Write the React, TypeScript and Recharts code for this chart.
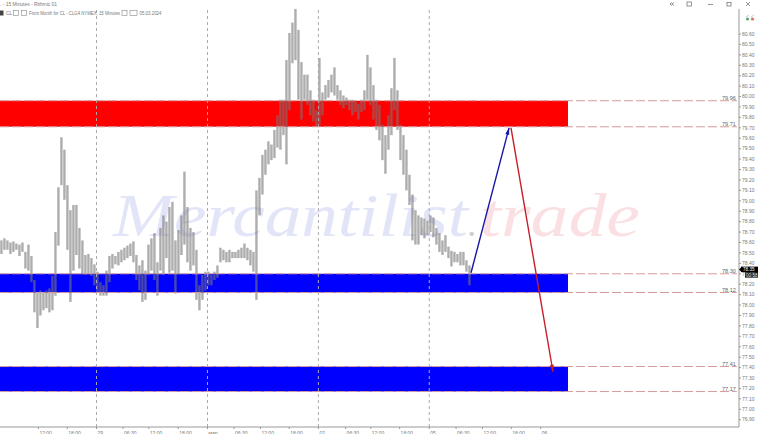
import React from "react";
import {
  ComposedChart,
  Bar,
  Line,
  XAxis,
  YAxis,
  ReferenceArea,
  ReferenceLine,
  ReferenceDot,
} from "recharts";

// high / low of the price, one pair per 2.5 time slots
const highs = [
  78.62, 78.64, 78.62, 78.6, 78.61, 78.59, 78.58, 78.6, 78.51, 78.58, 78.47, 78.24, 78.12, 78.14, 78.12, 78.14,
  78.16, 78.28, 78.7, 79.13, 79.61, 79.49, 79.15, 78.91, 78.96, 78.96, 78.74, 78.62, 78.48, 78.49, 78.45, 78.39,
  78.32, 78.22, 78.19, 78.33, 78.47, 78.49, 78.47, 78.51, 78.53, 78.55, 78.57, 78.59, 78.61, 78.48, 78.38, 78.43,
  78.33, 78.58, 78.64, 78.69, 78.41, 78.74, 78.86, 78.8, 78.94, 78.99, 78.62, 78.72, 78.86, 79.28, 78.94, 78.74,
  78.7, 78.53, 78.19, 78.29, 78.32, 78.32, 78.29, 78.32, 78.38, 78.55, 78.53, 78.51, 78.53, 78.51, 78.51, 78.53,
  78.55, 78.59, 78.55, 78.53, 78.51, 79.1, 79.22, 79.44, 79.49, 79.57, 79.54, 79.68, 79.82, 79.97, 79.97, 80.35,
  80.61, 80.71, 80.84, 80.64, 80.33, 80.21, 80.21, 80.06, 79.97, 79.87, 80.37, 80.04, 80.11, 80.16, 80.21, 80.28,
  80.11, 80.06, 80.01, 79.99, 79.97, 79.97, 79.95, 79.93, 79.97, 80.06, 80.4, 80.28, 80.11, 79.97, 79.92, 79.73,
  79.63, 79.82, 80.08, 80.37, 80.06, 79.73, 79.63, 79.49, 79.25, 79.06, 78.91, 78.86, 78.84, 78.83, 78.81, 78.86,
  78.84, 78.74, 78.69, 78.62, 78.67, 78.56, 78.52, 78.51, 78.49, 78.51, 78.51, 78.43, 78.38,
];
const lows = [
  78.49, 78.53, 78.53, 78.49, 78.51, 78.53, 78.47, 78.51, 78.35, 78.33, 78.22, 77.93, 77.78, 77.9, 77.95, 77.97,
  77.93, 77.95, 78.09, 78.57, 79.15, 79.01, 78.53, 78.03, 78.33, 78.48, 78.35, 78.29, 78.29, 78.3, 78.28, 78.19,
  78.12, 78.09, 78.09, 78.09, 78.22, 78.35, 78.39, 78.38, 78.41, 78.43, 78.45, 78.47, 78.41, 78.24, 78.14, 78.03,
  78.05, 78.29, 78.33, 78.24, 78.09, 78.33, 78.29, 78.45, 78.31, 78.33, 78.11, 78.29, 78.48, 78.58, 78.41, 78.33,
  78.38, 78.05, 77.95, 78.05, 78.14, 78.19, 78.19, 78.24, 78.26, 78.41, 78.43, 78.41, 78.41, 78.45, 78.45, 78.45,
  78.45, 78.45, 78.43, 78.38, 78.32, 78.05, 78.86, 79.06, 79.25, 79.35, 79.39, 79.41, 79.51, 79.49, 79.63, 79.35,
  79.87, 80.32, 80.35, 79.97, 79.78, 79.97, 79.92, 79.82, 79.76, 79.71, 79.73, 79.82, 79.97, 79.99, 80.04, 80.01,
  79.97, 79.92, 79.89, 79.92, 79.87, 79.82, 79.85, 79.78, 79.85, 79.87, 79.97, 79.92, 79.78, 79.68, 79.58, 79.39,
  79.26, 79.49, 79.63, 79.87, 79.68, 79.39, 79.25, 79.1, 78.96, 78.62, 78.58, 78.58, 78.67, 78.64, 78.67, 78.7,
  78.65, 78.58, 78.51, 78.48, 78.51, 78.45, 78.37, 78.41, 78.41, 78.38, 78.38, 78.32, 78.19,
];

const priceTicks = [
  80.6, 80.5, 80.4, 80.3, 80.2, 80.1, 80.0, 79.9, 79.8, 79.7, 79.6, 79.5, 79.4, 79.3, 79.2, 79.1, 79.0, 78.9, 78.8,
  78.7, 78.6, 78.5, 78.4, 78.3, 78.2, 78.1, 78.0, 77.9, 77.8, 77.7, 77.6, 77.5, 77.4, 77.3, 77.2, 77.1, 77.0, 76.9,
];
const timeTicks = [32, 56, 80.4, 102.5, 124, 148.5, 172.9, 195, 217, 241, 265.3, 288, 309, 333, 357.7, 380, 402, 426, 450.6];
const timeLabels = [
  "12:00", "18:00", "29", "06:30", "12:00", "18:00", "мар", "06:30", "12:00", "18:00", "02", "06:30", "12:00",
  "18:00", "05", "06:30", "12:00", "18:00", "06",
];
const sessionStarts = [80.4, 172.9, 265.3, 357.7];

const zoneLevels = [79.96, 79.71, 78.3, 78.12, 77.41, 77.17];
const zoneLabels = ["79.96", "79.71", "78.30", "78.12", "77.41", "77.17"];
const redZones = [[79.71, 79.96]];
const blueZones = [
  [78.12, 78.3],
  [77.17, 77.41],
];

const upArrow = [
  { slot: 392.5, price: 78.31 },
  { slot: 424.2, price: 79.7 },
];
const downArrow = [
  { slot: 425.8, price: 79.7 },
  { slot: 460.8, price: 77.36 },
];

const LAST_SLOT = 615.8;
const ZONE_END = 473.3;
const LEVEL_END = 614;

const bars = highs.map((high, i) => ({ slot: 1.25 + i * 2.5, range: [lows[i], high] }));

const grey = "#777";

const TimeTick = ({ x, y, payload }: any) => {
  const label = timeLabels[timeTicks.indexOf(payload.value)];
  return (
    <text x={x + 1} y={y + 3.5} fontSize={5} fill={grey} fontFamily="Liberation Sans">
      {label}
    </text>
  );
};

// the bar width gets clamped on a number axis, so the range bar is drawn here
const RangeBar = ({ x, y, width, height }: any) => (
  <rect x={x + width / 2 - 1.2} y={y} width={2.4} height={height} fill="#777" fillOpacity={0.6} />
);

const arrowHead = (dx: number, dy: number, color: string) => (props: any) => {
  if (props.index !== 1) return <g key={props.index} />;
  const { cx, cy } = props;
  const len = Math.hypot(dx, dy);
  const ux = dx / len;
  const uy = dy / len;
  const bx = cx - ux * 7;
  const by = cy - uy * 7;
  const points = `${cx},${cy} ${bx - uy * 2},${by + ux * 2} ${bx + uy * 2},${by - ux * 2}`;
  return <polygon key={props.index} points={points} fill={color} />;
};

const LastPriceTag = ({ cx, cy }: any) => (
  <g fontFamily="Liberation Sans" fontSize={4.6}>
    <rect x={cx + 2} y={cy - 3} width={17} height={5.5} fill="#000" />
    <path d={`M${cx},${cy} l2,-2 v4 z`} fill="#000" />
    <text x={cx + 4} y={cy + 1} fill="#fff">78.35</text>
    <rect x={cx + 6} y={cy + 2.5} width={13} height={5.5} fill="#000" />
    <text x={cx + 7} y={cy + 7} fill="#fff">00:58</text>
  </g>
);

const Header = () => (
  <svg width={758} height={30} style={{ position: "absolute", left: 0, top: 0 }} fontFamily="Liberation Sans" fontSize={5} fill={grey}>
    <text x={0} y={6} textLength={57} lengthAdjust="spacingAndGlyphs">. - 15 Minutes - Rithmic 01</text>
    <rect x={0} y={10.5} width={3.5} height={5} fill="#444" />
    <text x={6} y={15}>CL</text>
    <rect x={13.5} y={10.5} width={5} height={5} fill="none" stroke="#888" strokeWidth={0.6} />
    <rect x={21.5} y={10.5} width={5} height={5} fill="none" stroke="#888" strokeWidth={0.6} />
    <text x={29} y={15} textLength={91} lengthAdjust="spacingAndGlyphs">Front Month for CL - CLG4 NYMEX, 15 Minutes</text>
    <rect x={122} y={10.5} width={5} height={5} fill="none" stroke="#888" strokeWidth={0.6} />
    <rect x={130} y={10.5} width={7} height={5} fill="none" stroke="#888" strokeWidth={0.6} />
    <text x={139.5} y={15} textLength={22} lengthAdjust="spacingAndGlyphs">05.03.2024</text>
    <g fill="none" stroke="#666" strokeWidth={0.7}>
      <path d="M672,2.5 l-2,1.5 l2,1.5 M674,2.5 l-2,1.5 l2,1.5" />
      <rect x={687} y={2} width={4.5} height={4} />
      <path d="M708,4.5 h5" />
      <rect x={727} y={2.5} width={4} height={3.5} />
      <path d="M746,2 l4,4 M750,2 l-4,4" />
    </g>
    <circle cx={747.5} cy={19} r={1.6} fill="#5aa870" />
    <circle cx={752.5} cy={19} r={1.6} fill="#d87060" />
    <path d="M746,17 l3,-2 M751,17 l3,-2" stroke="#999" strokeWidth={0.5} />
  </svg>
);

const Watermark = () => (
  <svg width={758} height={434} style={{ position: "absolute", left: 0, top: 0 }} fontFamily="Liberation Serif" fontStyle="italic" fontSize={62}>
    <text x={113} y={236} fill="#e2e4f8" textLength={355} lengthAdjust="spacingAndGlyphs">Mercantilist</text>
    <text x={468} y={236} fill="#cfcfcf" fontSize={36}>.</text>
    <text x={480} y={236} fill="#fae0e2" textLength={160} lengthAdjust="spacingAndGlyphs">trade</text>
  </svg>
);

export default function App() {
  return (
    <div style={{ position: "absolute", left: 0, top: 0, width: 758, height: 434, overflow: "hidden", background: "#fff" }}>
      <Watermark />
      <div style={{ position: "absolute", left: 0, top: 0 }}>
        <ComposedChart width={758} height={434} data={bars} margin={{ top: 9, right: 0, bottom: 0, left: 0 }}>
          <XAxis
            dataKey="slot"
            type="number"
            domain={[0, LAST_SLOT]}
            ticks={timeTicks}
            interval={0}
            height={7}
            tick={<TimeTick />}
            tickSize={2}
            stroke="#999"
            allowDataOverflow
          />
          <YAxis
            orientation="right"
            type="number"
            domain={[76.83, 80.84]}
            ticks={priceTicks}
            interval={0}
            width={19}
            tickSize={2}
            tickMargin={1}
            tickFormatter={(v: number) => v.toFixed(2)}
            tick={{ fontSize: 5, fill: grey, fontFamily: "Liberation Sans" }}
            stroke="#999"
            allowDataOverflow
          />
          {sessionStarts.map((s) => (
            <ReferenceLine key={s} x={s} stroke="#aaa" strokeDasharray="3 3" />
          ))}
          {redZones.map(([y1, y2]) => (
            <ReferenceArea key={y1} x1={0} x2={ZONE_END} y1={y1} y2={y2} fill="#ff0000" fillOpacity={1} stroke="none" />
          ))}
          {blueZones.map(([y1, y2]) => (
            <ReferenceArea key={y1} x1={0} x2={ZONE_END} y1={y1} y2={y2} fill="#0000ff" fillOpacity={1} stroke="none" />
          ))}
          {zoneLevels.map((level, i) => (
            <ReferenceLine
              key={level}
              segment={[
                { x: 0, y: level },
                { x: LEVEL_END, y: level },
              ]}
              stroke="#d49a9d"
              strokeDasharray="9 3"
              label={{ value: zoneLabels[i], position: "insideBottomRight", fontSize: 5.5, fill: "#666", fontFamily: "Liberation Sans", offset: 1 }}
            />
          ))}
          <Bar dataKey="range" barSize={3} shape={<RangeBar />} isAnimationActive={false} />
          <Line data={upArrow} dataKey="price" stroke="#1616a8" strokeWidth={1.4} dot={arrowHead(39, -145, "#1616a8")} activeDot={false} isAnimationActive={false} />
          <Line data={downArrow} dataKey="price" stroke="#c81e2a" strokeWidth={1.4} dot={arrowHead(42, 244, "#c81e2a")} activeDot={false} isAnimationActive={false} />
          <ReferenceDot x={LAST_SLOT} y={78.34} r={0} shape={<LastPriceTag />} ifOverflow="visible" />
        </ComposedChart>
      </div>
      <Header />
    </div>
  );
}
